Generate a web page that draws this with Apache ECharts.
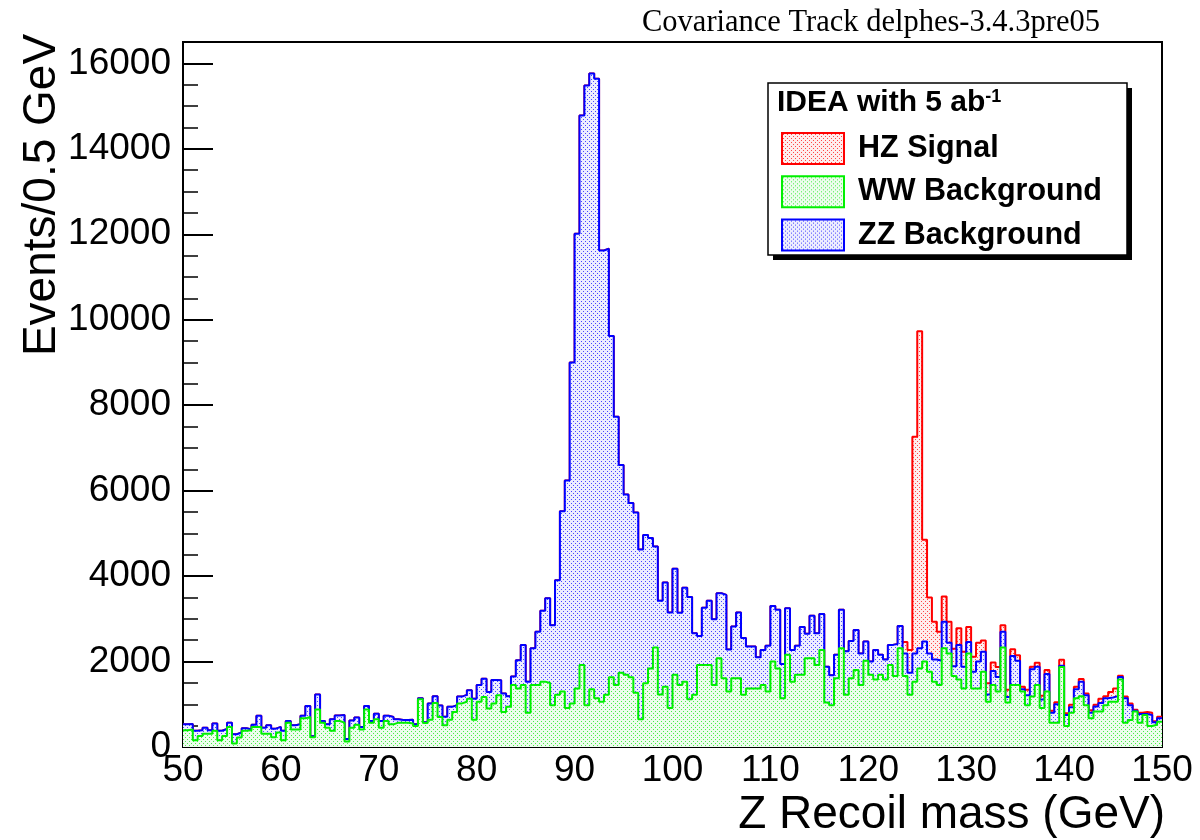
<!DOCTYPE html>
<html>
<head>
<meta charset="utf-8">
<script src="https://cdn.jsdelivr.net/npm/echarts@6/dist/echarts.min.js"></script>
<style>
html,body{margin:0;padding:0;background:#fff;}
#chart{width:1200px;height:840px;}
</style>
</head>
<body>
<div id="chart"></div>
<script>
// ---- data (events per 0.5 GeV bin, 50..150 GeV) ----
const binLow = 50;
const binWidth = 0.5;

const wwEvents = [
 390,410,160,260,310,310,380,160,260,470,
 80,220,380,390,470,470,310,310,230,340,
 160,570,410,410,670,700,230,880,570,450,
 380,610,570,130,450,520,410,880,570,650,
 450,610,530,570,570,570,550,490,1120,560,
 640,1030,700,510,640,820,1020,1060,1130,640,
 1060,1170,900,1020,1210,820,940,1450,1370,1450,
 800,1450,1450,1530,1500,980,1220,1300,910,1020,
 1370,1920,980,1350,1140,1060,1220,1630,1450,1740,
 1690,1630,1270,650,1490,1840,2330,1230,1410,910,
 1690,1450,1530,1120,1220,1920,1920,1920,1450,2080,
 1610,1300,1610,1610,1220,1370,1370,1370,1450,1300,
 2000,1840,1140,2160,1530,1690,1690,2080,2080,1920,
 2270,1040,980,1610,2310,1220,1610,1800,1450,2020,
 1690,1580,1690,1580,1920,1660,2310,1660,1220,1530,
 1840,2000,1760,1530,1450,2310,2190,1660,1580,1370,
 2190,1370,1370,1760,1060,1450,1300,2330,1040,1450,
 1450,1300,980,1180,1450,910,1300,570,570,1870,
 490,800,1140,1190,980,670,830,830,980,1060,
 1060,1580,570,630,830,570,750,490,520,590
];

const zzEvents = [
 140,130,220,130,140,80,170,220,160,100,
 220,120,60,20,50,260,140,200,200,130,
 220,40,100,120,60,260,20,350,40,80,
 270,130,180,60,170,170,60,80,40,130,
 160,120,170,80,60,60,90,40,20,20,
 380,160,270,200,300,160,160,160,200,490,
 390,430,390,550,350,430,250,200,660,940,
 730,860,1250,1660,1980,1870,2680,4220,5330,7980,
 10640,12860,14500,14410,14500,10560,10440,7990,6280,4860,
 4220,4080,4220,3970,3470,3050,2360,2190,2440,2240,
 2480,1690,2200,2390,1440,680,1340,1500,1540,1520,
 1950,980,1210,1540,1330,980,980,730,820,1070,
 1300,1370,800,1090,740,680,1120,570,990,740,
 840,840,700,550,900,1020,870,940,740,450,
 310,690,470,470,470,750,520,530,520,660,
 470,470,430,520,570,620,250,230,810,510,
 270,390,630,470,170,330,340,370,130,680,
 570,50,230,640,430,200,410,230,430,30,
 260,130,210,340,230,130,120,200,160,100,
 130,60,570,350,20,200,20,260,60,80
];

const hzEvents = [
 0,0,0,0,0,0,0,0,0,0,
 0,0,0,0,0,0,0,0,0,0,
 0,0,0,0,0,0,0,0,0,0,
 0,0,0,0,0,0,0,0,0,0,
 0,0,0,0,0,0,0,0,0,0,
 0,0,0,0,0,0,0,0,0,0,
 0,0,0,0,0,0,0,0,0,0,
 0,0,0,0,0,0,0,0,0,0,
 0,0,0,0,0,0,0,0,0,0,
 0,0,0,0,0,0,0,0,0,0,
 0,0,0,0,0,0,0,0,0,0,
 0,0,0,0,0,0,0,0,0,0,
 0,0,0,0,0,0,0,0,0,0,
 0,0,0,0,0,0,0,0,0,0,
 0,0,0,0,0,0,0,270,530,5070,
 7420,2380,1310,880,680,590,490,410,390,350,
 350,350,440,260,260,200,230,150,170,160,
 130,60,130,60,90,90,90,50,50,140,
 40,60,60,60,40,60,40,100,50,130,
 180,30,40,40,20,30,50,50,20,40
];

const seriesNames = ['HZ Signal', 'WW Background', 'ZZ Background'];
const legendTitle = 'IDEA with 5 ab';
const legendTitleSup = '-1';
const plotTitle = 'Covariance Track delphes-3.4.3pre05';
const xTitle = 'Z Recoil mass (GeV)';
const yTitle = 'Events/0.5 GeV';

// ---- stacking (THStack order: WW bottom, ZZ, HZ on top) ----
const wwTop = wwEvents.slice();
const zzTop = zzEvents.map((v, i) => v + wwTop[i]);
const hzTop = hzEvents.map((v, i) => v + zzTop[i]);

function stepData(vals) {
  const d = vals.map((v, i) => [binLow + i * binWidth, v]);
  d.push([binLow + vals.length * binWidth, vals[vals.length - 1]]);
  return d;
}
function dotPattern(r, g, b) {
  const c = document.createElement('canvas');
  c.width = 4; c.height = 4;
  const ctx = c.getContext('2d');
  ctx.fillStyle = '#ffffff';
  ctx.fillRect(0, 0, 4, 4);
  ctx.fillStyle = 'rgba(' + r + ',' + g + ',' + b + ',0.07)';
  ctx.fillRect(0, 0, 4, 4);
  ctx.fillStyle = 'rgba(' + r + ',' + g + ',' + b + ',0.7)';
  ctx.fillRect(1, 1, 1, 1);
  ctx.fillRect(3, 3, 1, 1);
  return { image: c, repeat: 'repeat' };
}
const redPat = dotPattern(255, 0, 0);
const greenPat = dotPattern(0, 230, 0);
const bluePat = dotPattern(0, 0, 255);

const FONT = '"Liberation Sans", Arial, Helvetica, sans-serif';

const chart = echarts.init(document.getElementById('chart'), null, { renderer: 'canvas' });

const option = {
  animation: false,
  backgroundColor: '#ffffff',
  grid: {
    left: 183, right: 38, top: 42, bottom: 93,
    show: true, borderColor: '#000', borderWidth: 2, backgroundColor: '#fff'
  },
  xAxis: {
    type: 'value', min: 50, max: 150, interval: 10,
    axisLine: { show: true, onZero: false, lineStyle: { color: '#000', width: 2 } },
    axisTick: { show: true, inside: true, length: 16, lineStyle: { color: '#000', width: 2 } },
    minorTick: { show: true, splitNumber: 5, length: 9, lineStyle: { color: '#000', width: 1.5 } },
    splitLine: { show: false },
    minorSplitLine: { show: false },
    axisLabel: { color: '#000', fontSize: 37, fontFamily: FONT, margin: 5, formatter: v => String(v) }
  },
  yAxis: {
    type: 'value', min: 0, max: 16500, interval: 2000,
    axisLine: { show: true, lineStyle: { color: '#000', width: 2 } },
    axisTick: { show: true, inside: true, length: 30, lineStyle: { color: '#000', width: 2 } },
    minorTick: { show: true, splitNumber: 4, length: 15, lineStyle: { color: '#000', width: 1.5 } },
    splitLine: { show: false },
    axisLabel: { color: '#000', fontSize: 37, fontFamily: FONT, margin: 12, showMaxLabel: false, formatter: v => String(v) }
  },
  legend: {
    orient: 'vertical',
    left: 781, top: 132,
    padding: 0,
    itemWidth: 62, itemHeight: 31, itemGap: 10.3,
    selectedMode: false,
    z: 30,
    textStyle: { color: '#000', fontSize: 30.5, fontWeight: 'bold', fontFamily: FONT, padding: [0, 0, 0, 9] },
    data: [
      { name: seriesNames[0], icon: 'rect', itemStyle: { color: redPat, borderColor: '#ff0000', borderWidth: 2 } },
      { name: seriesNames[1], icon: 'rect', itemStyle: { color: greenPat, borderColor: '#00f000', borderWidth: 2 } },
      { name: seriesNames[2], icon: 'rect', itemStyle: { color: bluePat, borderColor: '#0000ff', borderWidth: 2 } }
    ]
  },
  series: [
    {
      name: seriesNames[0], type: 'line', step: 'end',
      data: stepData(hzTop), symbol: 'none', showSymbol: false, silent: true, z: 3,
      lineStyle: { color: '#ff0000', width: 2 }, itemStyle: { color: '#ff0000' },
      areaStyle: { color: redPat, opacity: 1 }
    },
    {
      name: seriesNames[2], type: 'line', step: 'end',
      data: stepData(zzTop), symbol: 'none', showSymbol: false, silent: true, z: 4,
      lineStyle: { color: '#0000ff', width: 2 }, itemStyle: { color: '#0000ff' },
      areaStyle: { color: bluePat, opacity: 1 }
    },
    {
      name: seriesNames[1], type: 'line', step: 'end',
      data: stepData(wwTop), symbol: 'none', showSymbol: false, silent: true, z: 5,
      lineStyle: { color: '#00f000', width: 2 }, itemStyle: { color: '#00f000' },
      areaStyle: { color: greenPat, opacity: 1 }
    }
  ],
  graphic: [
    { type: 'rect', z: 20, shape: { x: 773, y: 88, width: 359, height: 172 }, style: { fill: '#000' } },
    { type: 'rect', z: 21, shape: { x: 768, y: 83, width: 359, height: 172 }, style: { fill: '#fff', stroke: '#000', lineWidth: 1.5 } },
    {
      type: 'text', z: 22, x: 777, y: 103,
      style: {
        text: '{t|' + legendTitle + '}{s|' + legendTitleSup + '}',
        verticalAlign: 'middle', align: 'left',
        rich: {
          t: { fontSize: 30, fontWeight: 'bold', fontFamily: FONT, fill: '#000' },
          s: { fontSize: 18, fontWeight: 'bold', fontFamily: FONT, fill: '#000', verticalAlign: 'top' }
        }
      }
    },
    {
      type: 'text', z: 22, x: 642, y: 23,
      style: { text: plotTitle, font: '30.5px "Liberation Serif", "Times New Roman", serif', fill: '#000', align: 'left', verticalAlign: 'middle' }
    },
    {
      type: 'text', z: 22, x: 42, y: 195, rotation: Math.PI / 2,
      style: { text: yTitle, font: '46px ' + FONT, fill: '#000', align: 'center', verticalAlign: 'middle' }
    },
    {
      type: 'text', z: 22, x: 1165, y: 815,
      style: { text: xTitle, font: '46px ' + FONT, fill: '#000', align: 'right', verticalAlign: 'middle' }
    }
  ]
};
chart.setOption(option);
</script>
</body>
</html>
